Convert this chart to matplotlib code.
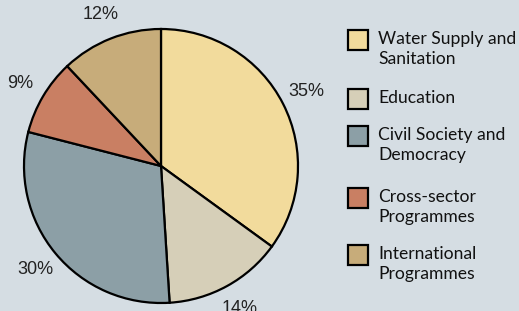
import matplotlib
matplotlib.use("Agg")
import matplotlib.pyplot as plt
from matplotlib.patches import Rectangle

categories = ["Water Supply and\nSanitation", "Education", "Civil Society and\nDemocracy",
              "Cross-sector\nProgrammes", "International\nProgrammes"]
values = [35, 14, 30, 9, 12]
colors = ["#f2db9c", "#d6cfb8", "#8c9fa6", "#c97f63", "#c7ac7a"]
bg = "#d5dde3"

W, H = 519, 311
fig = plt.figure(figsize=(W / 100, H / 100), dpi=100, facecolor=bg)

cx, cy, r = 161, 166, 137
ax = fig.add_axes([(cx - r) / W, (H - cy - r) / H, 2 * r / W, 2 * r / H])
ax.set_facecolor(bg)
wedges, texts, autotexts = ax.pie(
    values, colors=colors, startangle=90, counterclock=False,
    autopct=lambda p: f"{p:.0f}%", pctdistance=1.19,
    wedgeprops=dict(edgecolor="black", linewidth=1.6),
    textprops=dict(fontsize=13, family="Liberation Sans", color="#222222"))
ax.set_xlim(-1.0, 1.0)
ax.set_ylim(-1.0, 1.0)
ax.set_aspect("equal")
ax.axis("off")

# Legend drawn manually
box_centers = [40, 99, 136, 198, 255]
for lab, col, yc in zip(categories, colors, box_centers):
    rect = Rectangle(((348) / W, (H - yc - 10) / H), 20 / W, 20 / H,
                     transform=fig.transFigure, facecolor=col,
                     edgecolor="black", linewidth=1.6)
    fig.patches.append(rect)
    fig.text(378 / W, (H - yc + 9) / H, lab, ha="left", va="top",
             fontsize=12.6, family="Lato", color="#111111", linespacing=1.3)

fig.savefig("out.png", dpi=100, facecolor=bg)
